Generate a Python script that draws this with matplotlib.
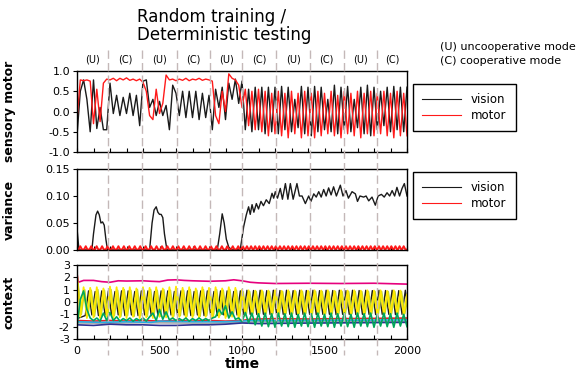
import matplotlib
matplotlib.use('Agg')
import matplotlib.pyplot as plt
import matplotlib.transforms as mtransforms
from matplotlib.lines import Line2D
from matplotlib.ticker import MultipleLocator, FormatStrFormatter
import numpy as np

plt.rcParams['font.family'] = 'DejaVu Sans'
plt.rcParams['axes.unicode_minus'] = False

t_grid = np.arange(0, 2001, 20)
# the context traces were read at shifted steps (their phases differ)
t_grid_lg = np.arange(6, 2007, 20)
t_grid_bk = np.arange(10, 2011, 20)

# mode switches (dashed lines) and mode labels
switch_t = [186, 396, 604, 809, 1000, 1209, 1412, 1616, 1819]
mode_labels = ['(U)', '(C)', '(U)', '(C)', '(U)', '(C)', '(U)', '(C)', '(U)', '(C)']

# --- sensory motor panel ---
vision_sm = [-0.60, 0.50, 0.78, 0.30, -0.50, 0.78, -0.42, 0.10, -0.45, -0.45,
             0.70, -0.05, 0.40, -0.10, 0.35, -0.05, 0.45, -0.10, 0.40, -0.35,
             0.75, 0.78, 0.10, 0.30, -0.10, 0.25, -0.10, 0.15, -0.45, 0.65,
             0.45, -0.10, 0.50, -0.15, 0.50, -0.15, 0.50, -0.20, 0.45, -0.15,
             0.40, -0.45, 0.55, 0.10, 0.60, -0.20, 0.70, 0.30, 0.80, 0.20,
             0.75, -0.45, 0.55, -0.50, 0.60, -0.45, 0.60, -0.55, 0.60, -0.50,
             0.60, -0.55, 0.62, -0.45, 0.60, -0.50, 0.30, -0.40, 0.62, -0.55,
             0.60, -0.60, 0.62, -0.50, 0.60, -0.45, 0.30, -0.50, 0.65, -0.55,
             0.60, -0.45, 0.62, -0.50, 0.30, -0.40, 0.60, -0.55, 0.65, -0.60,
             0.60, -0.45, 0.50, -0.35, 0.60, -0.50, 0.62, -0.45, 0.60, -0.50,
             0.60]
motor_sm = [-0.20, 0.78, 0.76, 0.78, 0.75, -0.30, 0.55, -0.25, 0.70, 0.80,
            0.78, 0.82, 0.76, 0.82, 0.78, 0.83, 0.77, 0.80, 0.76, 0.80,
            0.72, 0.50, -0.10, -0.20, 0.55, -0.05, 0.20, 0.90, 0.78, 0.80,
            0.76, 0.80, 0.77, 0.82, 0.76, 0.80, 0.78, 0.82, 0.77, 0.80,
            0.78, 0.75, -0.10, -0.30, 0.50, 0.00, 0.93, 0.82, 0.78, 0.65,
            0.10, 0.55, -0.35, 0.50, -0.45, 0.55, -0.50, 0.50, -0.60, 0.45,
            -0.55, 0.50, -0.60, 0.45, -0.65, 0.50, -0.55, 0.45, -0.65, 0.50,
            -0.60, 0.45, -0.65, 0.50, -0.60, 0.45, -0.55, 0.50, -0.60, 0.40,
            -0.65, 0.50, -0.55, 0.45, -0.60, 0.50, -0.65, 0.45, -0.55, 0.50,
            -0.60, 0.45, -0.55, 0.50, -0.60, 0.45, -0.65, 0.50, -0.60, 0.45,
            -0.60]

# --- variance panel ---
var_vision_t = [0, 12, 90, 100, 115, 125, 135, 145, 155, 165, 175, 185,
                440, 455, 467, 480, 490, 500, 510, 520, 530, 545,
                850, 865, 880, 892, 905, 920, 940, 990,
                1010, 1026, 1040, 1050, 1061, 1072, 1087, 1100, 1115, 1130, 1147, 1165,
                1182, 1192, 1202, 1215, 1232, 1245, 1263, 1278, 1293, 1310, 1333, 1348,
                1364, 1384, 1404, 1418, 1435, 1450, 1465, 1480, 1495, 1510, 1525, 1540,
                1555, 1572, 1596, 1612, 1630, 1645, 1667, 1687, 1700, 1715, 1737, 1752,
                1768, 1788, 1808, 1825, 1845, 1862, 1879, 1895, 1910, 1925, 1939, 1955,
                1970, 1984, 2000]
var_vision_v = [0.040, 0.0, 0.0, 0.030, 0.065, 0.072, 0.065, 0.050, 0.052, 0.046, 0.020, 0.0,
                0.0, 0.050, 0.074, 0.080, 0.070, 0.066, 0.066, 0.060, 0.030, 0.0,
                0.0, 0.030, 0.067, 0.050, 0.020, 0.005, 0.0, 0.002,
                0.043, 0.065, 0.080, 0.066, 0.084, 0.070, 0.086, 0.076, 0.090, 0.082, 0.093, 0.086,
                0.105, 0.096, 0.108, 0.096, 0.114, 0.094, 0.123, 0.094, 0.123, 0.094, 0.123, 0.100,
                0.100, 0.086, 0.100, 0.090, 0.104, 0.098, 0.108, 0.098, 0.112, 0.100, 0.115, 0.102,
                0.117, 0.100, 0.120, 0.100, 0.110, 0.096, 0.108, 0.104, 0.090, 0.100, 0.098, 0.100,
                0.091, 0.098, 0.083, 0.100, 0.103, 0.098, 0.106, 0.100, 0.110, 0.100, 0.116, 0.100,
                0.114, 0.123, 0.100]
# motor variance: small bumps on a near-zero baseline
motor_var_peaks = [20, 53, 86, 119, 152, 185, 218, 251, 284, 317, 350, 383, 416, 449, 482,
                   515, 548, 581, 614, 647, 680, 713, 746, 779, 812, 845, 878, 911, 944, 977,
                   1005, 1030, 1055, 1080, 1105, 1130, 1155, 1180, 1205, 1230, 1255, 1280,
                   1305, 1330, 1355, 1380, 1405, 1430, 1455, 1480, 1505, 1530, 1555, 1580,
                   1605, 1630, 1655, 1680, 1705, 1730, 1755, 1780, 1805, 1830, 1855, 1880,
                   1905, 1930, 1955, 1980]
motor_var_base = 0.001
motor_var_peak = 0.007

# --- context panel ---
ctx_yellow = [2.30, -1.20, 1.20, -1.30, 1.15, -1.25, 1.20, -1.30, 1.10, -1.20,
              1.25, -1.30, 1.20, -1.25, 1.15, -1.30, 1.20, -1.20, 1.10, -1.30,
              1.20, -1.25, 1.15, -1.30, 1.20, -1.20, 1.10, -1.25, 1.20, -1.30,
              1.25, -1.20, 1.15, -1.30, 1.20, -1.25, 1.10, -1.30, 1.20, -1.20,
              1.15, -1.30, 1.20, -1.25, 1.10, -1.30, 1.20, -1.20, 1.15, -1.40,
              1.00, -1.10, 0.95, -1.05, 0.92, -1.08, 0.95, -1.02, 0.93, -1.06,
              0.95, -1.05, 0.90, -1.08, 0.95, -1.03, 0.93, -1.06, 0.95, -1.05,
              0.92, -1.08, 0.95, -1.02, 0.93, -1.05, 0.95, -1.07, 0.90, -1.05,
              0.95, -1.03, 0.93, -1.06, 0.95, -1.05, 0.92, -1.08, 0.95, -1.02,
              0.93, -1.05, 0.95, -1.07, 0.90, -1.05, 0.95, -1.03, 0.93, -1.06,
              0.60]
ctx_lightgreen = [1.50, -1.00, 1.00, -1.10, 0.95, -1.15, 1.00, -1.10, 0.95, -1.15,
                  1.00, -1.10, 0.95, -1.15, 1.00, -1.10, 0.95, -1.15, 1.00, -1.10,
                  0.95, -1.15, 1.00, -1.10, 0.95, -1.15, 1.00, -1.10, 0.95, -1.15,
                  1.00, -1.10, 0.95, -1.15, 1.00, -1.10, 0.95, -1.15, 1.00, -1.10,
                  0.95, -1.15, 1.00, -1.10, 0.95, -1.15, 1.00, -1.10, 0.95, -1.15,
                  0.85, -0.95, 0.85, -0.95, 0.85, -0.95, 0.85, -0.95, 0.85, -0.95,
                  0.85, -0.95, 0.85, -0.95, 0.85, -0.95, 0.85, -0.95, 0.85, -0.95,
                  0.85, -0.95, 0.85, -0.95, 0.85, -0.95, 0.85, -0.95, 0.85, -0.95,
                  0.85, -0.95, 0.85, -0.95, 0.85, -0.95, 0.85, -0.95, 0.85, -0.95,
                  0.85, -0.95, 0.85, -0.95, 0.85, -0.95, 0.85, -0.95, 0.85, -0.95,
                  0.50]
ctx_black = [-1.30, -1.20, -1.10, 0.90, -1.05, 0.85, -1.10, 0.90, -1.05, 0.90,
             -1.10, 0.85, -1.05, 0.90, -1.10, 0.90, -1.05, 0.85, -1.10, 0.90,
             -1.05, 0.90, -1.10, 0.85, -1.05, 0.90, -1.10, 0.90, -1.05, 0.85,
             -1.10, 0.90, -1.05, 0.90, -1.10, 0.85, -1.05, 0.90, -1.10, 0.90,
             -1.05, 0.85, -1.10, 0.90, -1.05, 0.90, -1.10, 0.85, -1.05, 0.90,
             -1.00, 0.95, -1.00, 0.93, -1.02, 0.95, -1.00, 0.92, -1.00, 0.95,
             -1.02, 0.93, -1.00, 0.95, -1.00, 0.92, -1.02, 0.95, -1.00, 0.93,
             -1.00, 0.95, -1.02, 0.92, -1.00, 0.95, -1.00, 0.93, -1.02, 0.95,
             -1.00, 0.92, -1.00, 0.95, -1.02, 0.93, -1.00, 0.95, -1.00, 0.92,
             -1.02, 0.95, -1.00, 0.93, -1.00, 0.95, -1.02, 0.92, -1.00, 0.95,
             -1.00]
ctx_green = [-2.00, 0.20, 0.90, -0.60, -1.30, -1.50, -1.30, -1.55, -0.90, -1.50,
             -0.85, -1.50, -1.20, -1.55, -1.35, -1.50, -1.30, -1.55, -1.35, -1.50,
             -1.30, -1.55, -1.20, -0.90, -1.50, -0.60, -1.40, -0.80, -1.45, -1.30,
             -1.50, -1.35, -1.50, -1.30, -1.55, -1.35, -1.50, -1.30, -1.50, -1.35,
             -1.50, -1.30, -1.20, -0.60, -1.00, -0.30, -1.30, -0.80, -1.40, -1.30,
             -1.60, -0.85, -1.70, -0.90, -1.85, -0.95, -1.95, -0.90, -2.00, -0.95,
             -2.05, -0.90, -1.95, -0.95, -2.00, -0.90, -2.05, -1.00, -1.95, -0.90,
             -2.00, -0.95, -2.05, -0.90, -1.95, -1.00, -2.00, -0.90, -2.05, -0.95,
             -1.95, -0.90, -2.00, -1.00, -2.05, -0.90, -1.95, -0.95, -2.00, -0.90,
             -2.05, -1.00, -1.95, -0.90, -2.00, -0.95, -2.05, -0.90, -1.95, -1.00,
             -2.00]
ctx_pink_t = [0, 8, 40, 100, 150, 200, 250, 300, 400, 450, 500, 550, 600, 650, 700,
              800, 900, 950, 1000, 1050, 1100, 1200, 1400, 1600, 1800, 2000]
ctx_pink_v = [2.30, 1.60, 1.75, 1.75, 1.65, 1.60, 1.72, 1.70, 1.72, 1.68, 1.65, 1.78, 1.80,
              1.75, 1.72, 1.68, 1.72, 1.80, 1.72, 1.60, 1.55, 1.50, 1.52, 1.50, 1.52, 1.45]
ctx_red_t = [0, 100, 200, 300, 400, 500, 600, 700, 800, 900, 1000, 1050, 1200, 1400, 1600, 1800, 2000]
ctx_red_v = [-1.50, -1.55, -1.50, -1.55, -1.50, -1.55, -1.50, -1.55, -1.50, -1.55, -1.50,
             -1.40, -1.35, -1.38, -1.35, -1.33, -1.30]
ctx_cyan_t = [0, 150, 300, 450, 500, 700, 900, 1000, 1050, 1300, 1600, 2000]
ctx_cyan_v = [-1.60, -1.65, -1.60, -1.65, -1.55, -1.60, -1.60, -1.55, -1.50, -1.50, -1.48, -1.45]
ctx_gray_t = [0, 200, 400, 600, 800, 1000, 1100, 1500, 2000]
ctx_gray_v = [-1.70, -1.72, -1.68, -1.70, -1.72, -1.65, -1.60, -1.60, -1.58]
ctx_blue_t = [0, 100, 200, 300, 400, 500, 600, 700, 800, 900, 1000, 1100, 1300, 1500, 1700, 2000]
ctx_blue_v = [-1.85, -1.90, -1.80, -1.85, -1.85, -1.90, -1.90, -1.85, -1.85, -1.80, -1.70,
              -1.75, -1.72, -1.70, -1.68, -1.65]

W, H = 585, 376
fig = plt.figure(figsize=(W / 100, H / 100), dpi=100)


def px_axes(x0, y0, x1, y1):
    return fig.add_axes([x0 / W, 1 - y1 / H, (x1 - x0) / W, (y1 - y0) / H])


ax1 = px_axes(77, 71, 407, 152)
ax2 = px_axes(77, 169, 407, 250)
ax3 = px_axes(77, 265, 407, 339)

# sensory motor
ax1.plot(t_grid, vision_sm, color='#1a1a1a', lw=1.0)
ax1.plot(t_grid, motor_sm, color='#ff1a1a', lw=1.0)
ax1.set_ylim(-1.0, 1.0)
ax1.yaxis.set_major_locator(MultipleLocator(0.5))
ax1.yaxis.set_major_formatter(FormatStrFormatter('%.1f'))
ax1.set_ylabel('sensory motor', fontsize=9, fontweight='bold')

# variance
ax2.plot(var_vision_t, var_vision_v, color='#1a1a1a', lw=1.0)
mv_t, mv_v = [0], [motor_var_base]
for p in motor_var_peaks:
    mv_t += [p - 10, p, p + 10]
    mv_v += [motor_var_base, motor_var_peak, motor_var_base]
mv_t.append(2000)
mv_v.append(motor_var_base)
ax2.plot(mv_t, mv_v, color='#ff1a1a', lw=1.4)
ax2.set_ylim(0, 0.15)
ax2.yaxis.set_major_locator(MultipleLocator(0.05))
ax2.yaxis.set_major_formatter(FormatStrFormatter('%.2f'))
ax2.set_ylabel('variance', fontsize=9, fontweight='bold')

# context
ax3.plot(ctx_pink_t, ctx_pink_v, color='#e6007e', lw=1.2)
ax3.plot(ctx_gray_t, ctx_gray_v, color='#a8a8a8', lw=1.2)
ax3.plot(ctx_blue_t, ctx_blue_v, color='#2e3192', lw=1.2)
ax3.plot(ctx_red_t, ctx_red_v, color='#ed1c24', lw=1.2)
ax3.plot(ctx_cyan_t, ctx_cyan_v, color='#29abe2', lw=1.2)
ax3.plot(t_grid_bk, ctx_black, color='#1a1a1a', lw=1.0)
ax3.plot(t_grid_lg, ctx_lightgreen, color='#b5d335', lw=1.2)
ax3.plot(t_grid, ctx_yellow, color='#ffe800', lw=1.3)
ax3.plot(t_grid, ctx_green, color='#00a65a', lw=1.2)
ax3.set_ylim(-3, 3)
ax3.yaxis.set_major_locator(MultipleLocator(1))
ax3.set_ylabel('context', fontsize=9, fontweight='bold')
ax3.set_xlabel('time', fontsize=10, fontweight='bold', labelpad=1)

for ax in (ax1, ax2, ax3):
    ax.set_xlim(0, 2000)
    ax.xaxis.set_major_locator(MultipleLocator(500))
    ax.xaxis.set_minor_locator(MultipleLocator(100))
    ax.tick_params(axis='x', which='both', direction='in', length=3, width=0.8,
                   labelsize=8, pad=5)
    ax.tick_params(axis='y', direction='out', length=3, width=0.8, labelsize=8, pad=2)
    ax.yaxis.set_label_coords(-0.185, 0.5)
    for s in ax.spines.values():
        s.set_linewidth(1.0)
        s.set_color('black')
for ax in (ax1, ax2):
    ax.tick_params(axis='x', labelbottom=False)

# legends outside the right edge
for ax, anchor in ((ax1, (1.018, 0.84)), (ax2, (1.018, 0.965))):
    handles = [Line2D([], [], color='#1a1a1a', lw=0.8), Line2D([], [], color='#ff1a1a', lw=0.8)]
    leg = ax.legend(handles, ['vision', 'motor'], loc='upper left', bbox_to_anchor=anchor,
                    borderaxespad=0, fancybox=False, edgecolor='black', framealpha=1,
                    fontsize=8.5, handlelength=3.3, handletextpad=0.8, borderpad=0.8,
                    labelspacing=0.2)
    leg.get_frame().set_linewidth(1.0)

# dashed mode-switch lines spanning all panels
trans = mtransforms.blended_transform_factory(ax3.transData, fig.transFigure)
for s in switch_t:
    fig.add_artist(Line2D([s, s], [1 - 50 / H, 1 - 355 / H], transform=trans,
                          color='#c4b8b8', lw=1.0, ls=(0, (6, 3)), zorder=5))
bounds = [0] + switch_t + [2000]
for i, lab in enumerate(mode_labels):
    fig.text((bounds[i] + bounds[i + 1]) / 2, 1 - 60 / H, lab, transform=trans,
             ha='center', va='center', fontsize=7)

fig.text(137 / W, 1 - 17 / H, 'Random training /', fontsize=12, va='center')
fig.text(137 / W, 1 - 35 / H, 'Deterministic testing', fontsize=12, va='center')
fig.text(440 / W, 1 - 47 / H, '(U) uncooperative mode', fontsize=8, va='center')
fig.text(440 / W, 1 - 61 / H, '(C) cooperative mode', fontsize=8, va='center')

fig.savefig('out.png', dpi=100)
